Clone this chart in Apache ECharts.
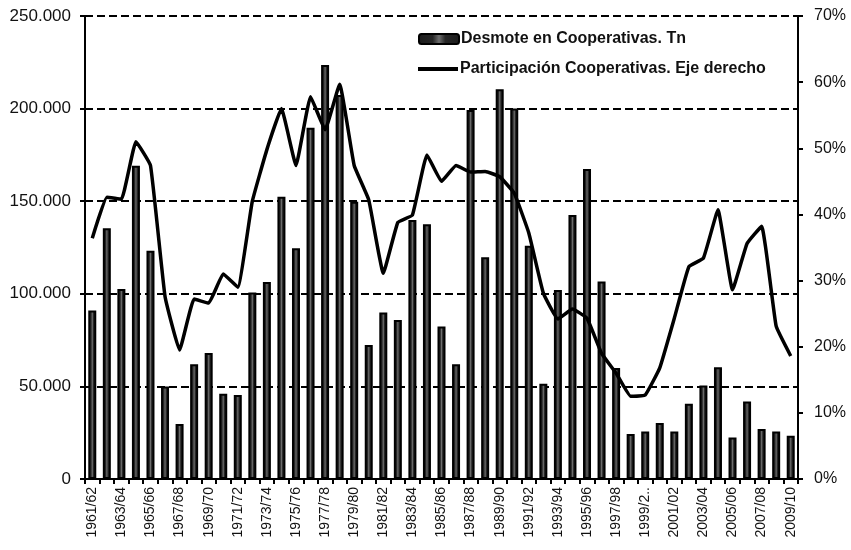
<!DOCTYPE html>
<html>
<head>
<meta charset="utf-8">
<script src="https://cdn.jsdelivr.net/npm/echarts@6/dist/echarts.min.js"></script>
<style>
  html, body { margin: 0; padding: 0; background: #fff; }
  #chart { width: 851px; height: 550px; }
</style>
</head>
<body>
<div id="chart"></div>
<script>
  let campanias = [
    '1961/62', '1962/63', '1963/64', '1964/65', '1965/66', '1966/67', '1967/68', '1968/69',
    '1969/70', '1970/71', '1971/72', '1972/73', '1973/74', '1974/75', '1975/76', '1976/77',
    '1977/78', '1978/79', '1979/80', '1980/81', '1981/82', '1982/83', '1983/84', '1984/85',
    '1985/86', '1986/87', '1987/88', '1988/89', '1989/90', '1990/91', '1991/92', '1992/93',
    '1993/94', '1994/95', '1995/96', '1996/97', '1997/98', '1998/99', '1999/2000', '2000/01',
    '2001/02', '2002/03', '2003/04', '2004/05', '2005/06', '2006/07', '2007/08', '2008/09',
    '2009/10'
  ];
  // toneladas desmotadas en cooperativas
  let desmote = [
    91000, 135400, 102600, 169200, 123300, 50000, 29700, 62000,
    68000, 46000, 45300, 100700, 106400, 152400, 124600, 189700,
    223500, 207300, 149700, 72400, 89900, 85900, 139900, 137500,
    82300, 62000, 199200, 119700, 210400, 200100, 126000, 51400,
    102000, 142600, 167400, 106600, 59900, 24300, 25700, 30200,
    25700, 40600, 50500, 60400, 22400, 41900, 27000, 25700,
    23400
  ];
  // participacion de cooperativas (%), eje derecho
  let participacion = [
    36.4, 42.6, 42.3, 51.0, 47.4, 27.6, 19.5, 27.2,
    26.6, 31.0, 29.0, 42.0, 49.8, 56.0, 47.4, 57.8,
    52.8, 59.7, 47.4, 42.2, 31.1, 38.8, 39.9, 49.0,
    45.0, 47.4, 46.4, 46.5, 45.7, 43.2, 37.2, 28.1,
    24.2, 25.7, 24.3, 19.0, 16.0, 12.5, 12.7, 16.8,
    24.3, 32.1, 33.4, 40.7, 28.6, 35.6, 38.2, 23.1,
    18.6
  ];
  let leftTicks = [0, 50000, 100000, 150000, 200000, 250000];

  function miles(v) {
    return String(v).replace(/\B(?=(\d{3})+(?!\d))/g, '.');
  }

  let barFill = new echarts.graphic.LinearGradient(0, 0, 1, 0, [
    { offset: 0, color: '#1c1c1c' },
    { offset: 0.35, color: '#262626' },
    { offset: 0.5, color: '#6e6e6e' },
    { offset: 0.65, color: '#262626' },
    { offset: 1, color: '#1c1c1c' }
  ]);

  let legendText = { fontSize: 16, fontWeight: 'bold', color: '#111', padding: [0, 0, 0, -3] };

  let chart = echarts.init(document.getElementById('chart'));
  chart.setOption({
    backgroundColor: '#fff',
    animation: false,
    textStyle: { fontFamily: 'Liberation Sans, Arial, sans-serif', color: '#000' },
    grid: { left: 85, right: 53, top: 16, bottom: 71 },
    legend: [
      {
        left: 413,
        top: 26,
        itemWidth: 40,
        itemHeight: 10,
        icon: 'roundRect',
        textStyle: legendText,
        data: ['Desmote en Cooperativas. Tn']
      },
      {
        left: 413,
        top: 56,
        itemWidth: 40,
        itemHeight: 4,
        icon: 'rect',
        textStyle: legendText,
        data: ['Participación Cooperativas. Eje derecho']
      }
    ],
    xAxis: {
      type: 'category',
      data: campanias,
      boundaryGap: true,
      axisLine: { lineStyle: { color: '#000', width: 2 } },
      axisTick: { show: true, interval: 0, length: 5, lineStyle: { color: '#000', width: 2 } },
      axisLabel: {
        interval: 1,
        rotate: 90,
        fontSize: 14,
        color: '#111',
        margin: 8,
        formatter: function (v) {
          return v.length > 7 ? v.slice(0, 6) + '..' : v;
        }
      }
    },
    yAxis: [
      {
        type: 'value',
        min: leftTicks[0],
        max: leftTicks[leftTicks.length - 1],
        interval: 50000,
        axisLine: { show: true, lineStyle: { color: '#000', width: 2 } },
        axisTick: { show: true, length: 5, lineStyle: { color: '#000', width: 2 } },
        axisLabel: { fontSize: 17, color: '#111', margin: 14, formatter: miles },
        splitLine: { show: true, lineStyle: { color: '#000', width: 2, type: [8, 4] } }
      },
      {
        type: 'value',
        min: 0,
        max: 70,
        interval: 10,
        axisLine: { show: true, lineStyle: { color: '#000', width: 2 } },
        axisTick: { show: true, length: 5, lineStyle: { color: '#000', width: 2 } },
        axisLabel: { fontSize: 16, color: '#111', margin: 16, formatter: '{value}%' },
        splitLine: { show: false }
      }
    ],
    series: [
      {
        name: 'Desmote en Cooperativas. Tn',
        type: 'bar',
        yAxisIndex: 0,
        barWidth: '55%',
        data: desmote,
        itemStyle: { color: barFill, borderColor: '#000', borderWidth: 2 }
      },
      {
        name: 'Participación Cooperativas. Eje derecho',
        type: 'line',
        yAxisIndex: 1,
        data: participacion,
        smooth: 0.1,
        symbol: 'none',
        lineStyle: { color: '#000', width: 3.5 },
        itemStyle: { color: '#000' },
        z: 5
      }
    ]
  });
</script>
</body>
</html>
